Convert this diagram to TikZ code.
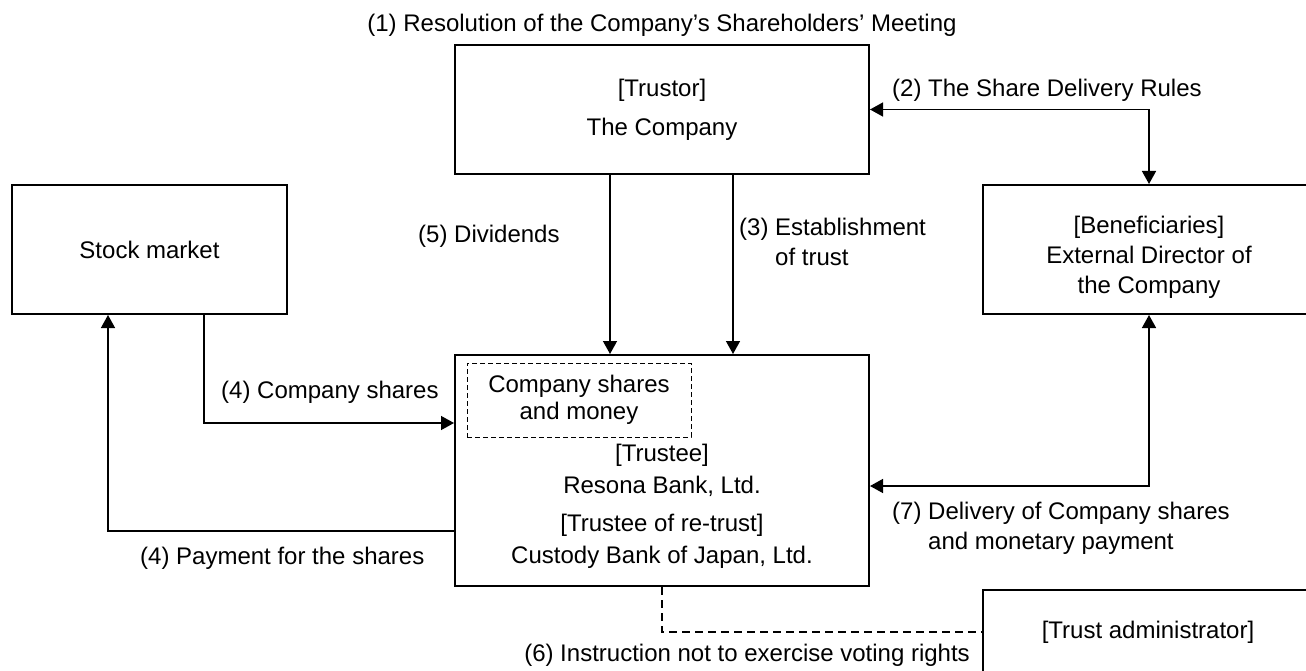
\documentclass[tikz,border=0pt]{standalone}
\usepackage{fontspec}
\setmainfont{Liberation Sans}
\usetikzlibrary{arrows.meta}
\usetikzlibrary{positioning}

\tikzset{every picture/.style={font=\fontsize{24}{30}\selectfont}}
\tikzset{
  box/.style={draw, line width=2pt, inner sep=0pt},
  lbl/.style={inner sep=0pt, align=left},
  conn/.style={line width=1.4pt, -{Triangle[length=13pt,width=14pt]}},
  bothconn/.style={line width=1.4pt, {Triangle[length=13pt,width=14pt]}-{Triangle[length=13pt,width=14pt]}},
  voteline/.style={line width=1.4pt, dash pattern=on 8pt off 5pt},
}

\begin{document}
\begin{tikzpicture}[x=1pt,y=-1pt]
  \useasboundingbox (0,0) rectangle (1306,671);

  % boxes
  \node [box, minimum width=414pt, minimum height=129pt, align=center] (trustor) at (662,109.5)
    {[Trustor]\\[9pt]The Company};
  \node [box, minimum width=275pt, minimum height=129pt] (stockmkt) at (149.5,249.5) {Stock market};
  \node [box, minimum width=332pt, minimum height=129pt] (benef) at (1149,249.5) {};
  \node [align=center, inner sep=0pt] (beneftext) at (1149,257)
    {[Beneficiaries]\\External Director of\\the Company};
  \node [box, minimum width=414pt, minimum height=231pt] (trustee) at (662,470.5) {};
  \node [draw, line width=0.9pt, dash pattern=on 5pt off 3pt, minimum width=224pt, minimum height=74pt,
    inner sep=0pt, align=center, font=\fontsize{24}{27}\selectfont] (sharebox) at (579,400)
    {Company shares\\and money};
  \node [align=center, inner sep=0pt, font=\fontsize{24}{32}\selectfont] (trusteetext) at (662,506)
    {[Trustee]\\Resona Bank, Ltd.\\[6pt][Trustee of re-trust]\\Custody Bank of Japan, Ltd.};
  \node [box, minimum width=330pt, minimum height=84pt] (admin) at (1148,632) {[Trust administrator]};

  % flows
  \draw [bothconn] (trustor.east) -| (benef.north);
  \draw [conn] ([xshift=-52pt]trustor.south) -- ([xshift=-52pt]trustee.north);
  \draw [conn] ([xshift=71pt]trustor.south) -- ([xshift=71pt]trustee.north);
  \draw [conn] ([xshift=54.5pt]stockmkt.south) |- ([yshift=47.5pt]trustee.west);
  \draw [conn] ([yshift=-60.5pt]trustee.west) -| ([xshift=-41.5pt]stockmkt.south);
  \draw [bothconn] ([yshift=-15.5pt]trustee.east) -| (benef.south);
  \draw [voteline] (trustee.south) |- (admin.west);

  % labels
  \node [lbl] (l1) at (662,25) {(1) Resolution of the Company’s Shareholders’ Meeting};
  \node [lbl, anchor=west] (l2) at (892,90) {(2) The Share Delivery Rules};
  \node [lbl, anchor=west] (l3) at (739,242) {(3) Establishment\\\hphantom{(3) }of trust};
  \node [lbl, anchor=west] (l4a) at (221,392) {(4) Company shares};
  \node [lbl, anchor=west] (l4b) at (140,558) {(4) Payment for the shares};
  \node [lbl, anchor=west] (l5) at (418,236) {(5) Dividends};
  \node [lbl, anchor=east] (l6) at (970,655) {(6) Instruction not to exercise voting rights};
  \node [lbl, anchor=west] (l7) at (892,528) {(7) Delivery of Company shares\\\hphantom{(7) }and monetary payment};

\end{tikzpicture}
\end{document}
